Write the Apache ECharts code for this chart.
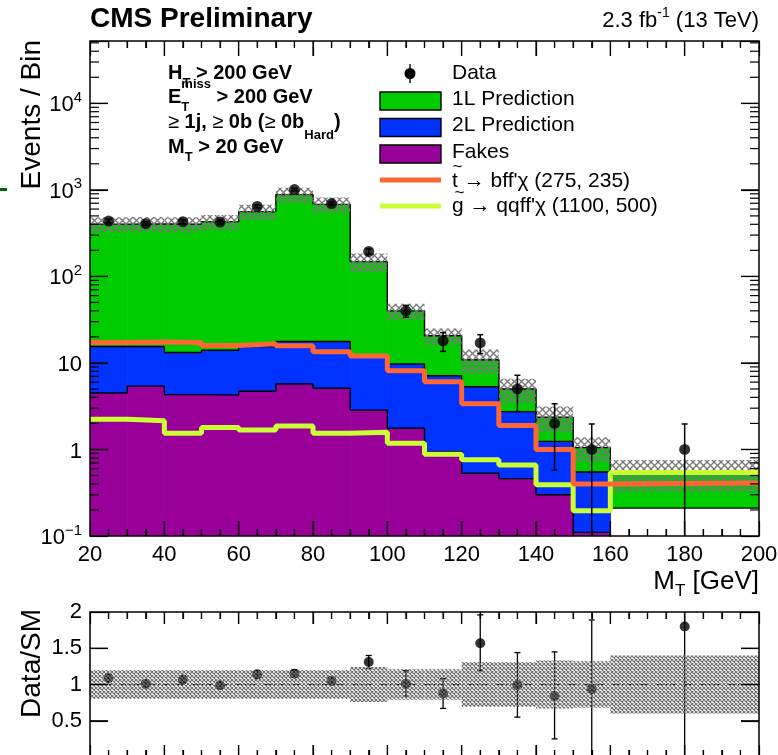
<!DOCTYPE html>
<html><head><meta charset="utf-8">
<script src="https://cdn.jsdelivr.net/npm/echarts@6/dist/echarts.min.js"></script>
<style>html,body{margin:0;padding:0;background:#fff}#c{width:778px;height:755px}</style>
</head><body><div id="c"></div>
<script>
// ---------------- data ----------------
const binEdges  = [20,30,40,50,60,70,80,90,100,110,120,130,140,150,160,200];
const fakes     = [4.5,5.4,4.3,4.25,4.7,5.7,5.1,2.85,1.76,0.94,0.53,0.46,0.30,0.11,0];
const twoL      = [11.0,10.1,8.9,9.75,10.8,12.0,12.6,9.15,7.94,6.16,4.77,2.28,0.94,0.44,0.21];
const oneL      = [386,388,388,414,544,862,662,136,30.3,13.5,5.6,2.26,1.12,0.50,0.33];
const stopSig   = [17.2,17.5,17.2,15.9,16.7,15.8,13.5,12.0,8.1,6.05,3.37,1.89,1.0,0.40,0.41];
const gluinoSig = [2.24,2.14,1.54,1.79,1.68,1.87,1.54,1.58,1.18,0.88,0.76,0.66,0.39,0.196,0.54];
const relUnc    = [0.2,0.2,0.2,0.2,0.2,0.2,0.2,0.24,0.21,0.21,0.31,0.31,0.33,0.32,0.40];
const dataX     = [25,35,45,55,65,75,85,95,105,115,125,135,145,155,180];
const dataY     = [436,407,429,425,643,1007,695,194,40,18,17,5,2,1,1];
const dataErrLo = [21,20,21,21,25,32,26,14,6.3,4.4,4.2,2.26,1.42,1,1];
const dataErrHi = [21,20,21,21,25,32,26,14,6.3,4.4,4.2,2.2,1.37,0.97,0.97];
const ratioY     = [1.09,1.01,1.07,0.99,1.14,1.15,1.05,1.31,1.01,0.875,1.57,0.99,0.84,0.94,1.80];
const ratioErrLo = [0.05,0.05,0.05,0.05,0.05,0.05,0.05,0.09,0.17,0.205,0.38,0.44,0.59,0.94,1.80];
const ratioErrHi = [0.05,0.05,0.05,0.05,0.05,0.05,0.05,0.09,0.18,0.205,0.39,0.45,0.61,0.95,1.90];
const ratioTickValues = [0.5, 1, 1.5, 2];
const legendNames = ['Data','1L Prediction','2L Prediction','Fakes','t \u2192 bff\'\u03c7 (275, 235)','g \u2192 qqff\'\u03c7 (1100, 500)'];
const yMin = 0.1, yMax = 52500;

// ---------------- style ----------------
const FONT = "'Liberation Sans', Arial, Helvetica, sans-serif";
const C_GREEN = '#00cc00', C_BLUE = '#0033ff', C_PURPLE = '#990099', C_ORANGE = '#ff6633', C_LIME = '#ccff33';

function makeHatch(size, color, lw) {
  const c = document.createElement('canvas'); c.width = size; c.height = size;
  const g = c.getContext('2d'); g.strokeStyle = color; g.lineWidth = lw;
  g.beginPath(); g.moveTo(0,0); g.lineTo(size,size); g.moveTo(size,0); g.lineTo(0,size); g.stroke();
  return c;
}
const hatchMain  = {image: makeHatch(7, '#777777', 1.3), repeat: 'repeat'};
const hatchRatio = {image: makeHatch(4, '#6a6a6a', 1.1), repeat: 'repeat'};

// ---------------- derived stacking ----------------
const nb = fakes.length;
const xLo = binEdges[0], xHi = binEdges[nb];
const cum1 = fakes.slice();
const cum2 = cum1.map((v,i)=>v+twoL[i]);
const cum3 = cum2.map((v,i)=>v+oneL[i]);

function layerData(lower, upper) {
  return upper.map((u,i)=>[binEdges[i], binEdges[i+1], lower ? lower[i] : yMin, u, i]);
}
function stepData(vals) {
  const d = vals.map((v,i)=>[binEdges[i], Math.max(v, 1e-4)]);
  d.push([xHi, Math.max(vals[nb-1], 1e-4)]);
  return d;
}
function rectRender(color, extend) {
  return function (params, api) {
    const x0 = api.value(0), x1 = api.value(1), lo = api.value(2), hi = api.value(3), i = api.value(4);
    if (!(hi > lo) || hi <= 0) return null;
    const a = api.coord([x0, hi]), b = api.coord([x1, lo]);
    const ext = (extend && i < nb-1) ? 0.6 : 0;
    return {type:'rect', shape:{x:a[0], y:a[1], width:b[0]-a[0]+ext, height:b[1]-a[1]}, style:{fill:color}};
  };
}
function errRender(cw, lw) {
  return function (params, api) {
    const x = api.value(0), lo = api.value(1), hi = api.value(2);
    const a = api.coord([x, hi]), b = api.coord([x, lo]);
    const st = {stroke:'#000', lineWidth:lw};
    return {type:'group', children:[
      {type:'line', shape:{x1:a[0],y1:a[1],x2:b[0],y2:b[1]}, style:st},
      {type:'line', shape:{x1:a[0]-cw,y1:a[1],x2:a[0]+cw,y2:a[1]}, style:st},
      {type:'line', shape:{x1:b[0]-cw,y1:b[1],x2:b[0]+cw,y2:b[1]}, style:st}
    ]};
  };
}

const bandMain = cum3.map((t,i)=>[binEdges[i], binEdges[i+1], t*(1-relUnc[i]), t*(1+relUnc[i]), i]);
const bandRatio = relUnc.map((u,i)=>[binEdges[i], binEdges[i+1], 1-u, 1+u, i]);
const dataErr = dataX.map((x,i)=>[x, Math.max(dataY[i]-dataErrLo[i], 1e-4), dataY[i]+dataErrHi[i]]);
const ratioErr = dataX.map((x,i)=>[x, ratioY[i]-ratioErrLo[i], ratioY[i]+ratioErrHi[i]]);

// ---------------- text helpers ----------------
const mctx = document.createElement('canvas').getContext('2d');
function tw(t, size, w) { mctx.font = (w||'normal') + ' ' + size + 'px ' + FONT; return mctx.measureText(t).width; }
const G = [];
function addPieces(x, y, pieces, align) {
  const widths = pieces.map(p => p.adv !== undefined ? p.adv : tw(p.t, p.size, p.w));
  const total = widths.reduce((a,b)=>a+b, 0);
  let cx = align === 'right' ? x - total : x;
  pieces.forEach((p,i) => {
    G.push({type:'text', x:cx, y:y+(p.dy||0), z:100, silent:true,
      style:{text:p.t, fontSize:p.size, fontWeight:p.w||'normal', fontFamily:FONT, fill:'#000', align:'left', verticalAlign:'middle'}});
    cx += widths[i];
  });
}
// header
addPieces(90, 19, [{t:'CMS Preliminary', size:28, w:'bold'}]);
addPieces(759, 21, [{t:'2.3 fb', size:22},{t:'-1', size:14, dy:-8},{t:' (13 TeV)', size:22}], 'right');
// selection text
const B = 'bold';
addPieces(168, 73, [{t:'H',size:20,w:B},{t:'T',size:13,w:B,dy:10},{t:' > 200 GeV',size:20,w:B}]);
addPieces(168, 97, [{t:'E',size:20,w:B},{t:'T',size:13,w:B,dy:10,adv:0},{t:'miss',size:13,w:B,dy:-13},{t:' > 200 GeV',size:20,w:B}]);
addPieces(168, 122, [{t:'\u2265 ',size:20},{t:'1j, ',size:20,w:B},{t:'\u2265 ',size:20},{t:'0b (',size:20,w:B},{t:'\u2265 ',size:20},{t:'0b',size:20,w:B},{t:'Hard',size:13,w:B,dy:13},{t:')',size:20,w:B}]);
addPieces(168, 147, [{t:'M',size:20,w:B},{t:'T',size:13,w:B,dy:10},{t:' > 20 GeV',size:20,w:B}]);
// axis titles
addPieces(759, 582, [{t:'M',size:26},{t:'T',size:17,dy:9},{t:' [GeV]',size:26}], 'right');
G.push({type:'text', x:32, y:40, rotation:Math.PI/2, z:100, silent:true,
  style:{text:'Events / Bin', fontSize:28, fontFamily:FONT, fill:'#000', align:'right', verticalAlign:'middle'}});
G.push({type:'text', x:32, y:609, rotation:Math.PI/2, z:100, silent:true,
  style:{text:'Data/SM', fontSize:28, fontFamily:FONT, fill:'#000', align:'right', verticalAlign:'middle'}});
// stray mark at left edge
G.push({type:'rect', shape:{x:0, y:188, width:7, height:3}, style:{fill:'#006600'}, z:100, silent:true});
// legend
const LX = 380, LW = 61, TX = 452;
G.push({type:'line', shape:{x1:410, y1:64, x2:410, y2:83}, style:{stroke:'#000', lineWidth:1.4}, z:100});
G.push({type:'circle', shape:{cx:410, cy:73.5, r:5.5}, style:{fill:'#000'}, z:100});
[[C_GREEN,92],[C_BLUE,118.5],[C_PURPLE,145]].forEach(([c,y]) =>
  G.push({type:'rect', shape:{x:LX, y:y, width:LW, height:18}, style:{fill:c, stroke:'#000', lineWidth:1.4}, z:100}));
G.push({type:'rect', shape:{x:LX, y:177.5, width:LW, height:5}, style:{fill:C_ORANGE}, z:100});
G.push({type:'rect', shape:{x:LX, y:203.5, width:LW, height:5}, style:{fill:C_LIME}, z:100});
const legY = [73, 99, 125.5, 152, 181, 206];
legendNames.forEach((n,i) => addPieces(TX, legY[i], [{t:n, size:21}]));
addPieces(TX+0.5, 167, [{t:'~', size:17}]);
addPieces(TX+2.5, 193, [{t:'~', size:17}]);

// ---------------- chart ----------------
const chart = echarts.init(document.getElementById('c'), null, {renderer:'canvas'});
const lblStyle = {fontSize:22, fontFamily:FONT, color:'#000'};
const tickLine = {color:'#000', width:1.2};
function xAx(grid, pos, showLabel, maj) {
  return {gridIndex:grid, type:'value', min:xLo, max:xHi, interval:20, position:pos, z:30,
    axisLine:{show:false, onZero:false}, splitLine:{show:false},
    axisTick:{show:true, inside:true, length:maj, lineStyle:tickLine},
    minorTick:{show:true, splitNumber:4, length:7, lineStyle:tickLine},
    axisLabel:Object.assign({show:showLabel, margin:8}, lblStyle)};
}
function logFmt(v) {
  const l = Math.log10(v), e = Math.round(l);
  if (Math.abs(l - e) > 1e-6) return '';
  if (e === 0) return '{b|1}';
  if (e === 1) return '{b|10}';
  return '{b|10}{s|' + (e < 0 ? '\u22121' : e) + '}';
}
function yLog(pos, showLabel) {
  return {gridIndex:0, type:'log', logBase:10, min:yMin, max:yMax, position:pos, z:30,
    axisLine:{show:false, onZero:false}, splitLine:{show:false}, minorTick:{show:false},
    axisTick:{show:true, inside:true, length:18, lineStyle:tickLine},
    axisLabel:{show:showLabel, margin:8, formatter:logFmt, color:'#000',
      rich:{b:{fontSize:22, fontFamily:FONT, color:'#000', lineHeight:26, verticalAlign:'bottom'},
            s:{fontSize:15, fontFamily:FONT, color:'#000', lineHeight:12, verticalAlign:'top'}}}};
}
function yRatio(pos, showLabel) {
  return {gridIndex:1, type:'value', min:0, max:2, interval:0.5, position:pos, z:30,
    axisLine:{show:false, onZero:false}, splitLine:{show:false},
    axisTick:{show:true, inside:true, length:18, lineStyle:tickLine},
    axisLabel:Object.assign({show:showLabel, margin:8, formatter:v => v === 0 ? '' : String(v)}, lblStyle)};
}
const option = {
  animation:false,
  backgroundColor:'#fff',
  textStyle:{fontFamily:FONT},
  grid:[
    {left:90, top:41, width:669, height:495, show:true, borderColor:'#000', borderWidth:1.5, backgroundColor:'transparent', z:10, outerBoundsMode:'none', containLabel:false},
    {left:90, top:612, width:669, height:145, show:true, borderColor:'#000', borderWidth:1.5, backgroundColor:'transparent', z:10, outerBoundsMode:'none', containLabel:false}
  ],
  xAxis:[ xAx(0,'bottom',true,15), xAx(0,'top',false,15), xAx(1,'bottom',false,12), xAx(1,'top',false,12) ],
  yAxis:[ yLog('left',true), yLog('right',false), yRatio('left',true), yRatio('right',false) ],
  series:[
    {name:'Fakes', type:'custom', xAxisIndex:0, yAxisIndex:0, z:2, clip:true, renderItem:rectRender(C_PURPLE,true),
      encode:{x:[0,1], y:[2,3]}, data:layerData(null, cum1)},
    {name:'2L Prediction', type:'custom', xAxisIndex:0, yAxisIndex:0, z:2, clip:true, renderItem:rectRender(C_BLUE,true),
      encode:{x:[0,1], y:[2,3]}, data:layerData(cum1, cum2)},
    {name:'1L Prediction', type:'custom', xAxisIndex:0, yAxisIndex:0, z:2, clip:true, renderItem:rectRender(C_GREEN,true),
      encode:{x:[0,1], y:[2,3]}, data:layerData(cum2, cum3)},
    ...[cum1, cum2, cum3].map(c => ({type:'line', xAxisIndex:0, yAxisIndex:0, z:3, step:'end', symbol:'none', clip:true,
      lineStyle:{color:'#000', width:1.4}, data:stepData(c), silent:true})),
    {name:'Uncertainty', type:'custom', xAxisIndex:0, yAxisIndex:0, z:4, clip:true, renderItem:rectRender(hatchMain,false),
      encode:{x:[0,1], y:[2,3]}, data:bandMain},
    {name:legendNames[5], type:'line', xAxisIndex:0, yAxisIndex:0, z:5, step:'end', symbol:'none', clip:true,
      lineStyle:{color:C_LIME, width:5}, data:stepData(gluinoSig)},
    {name:legendNames[4], type:'line', xAxisIndex:0, yAxisIndex:0, z:5, step:'end', symbol:'none', clip:true,
      lineStyle:{color:C_ORANGE, width:5}, data:stepData(stopSig)},
    {type:'custom', xAxisIndex:0, yAxisIndex:0, z:6, clip:true, renderItem:errRender(3,1.5),
      encode:{x:0, y:[1,2]}, data:dataErr},
    {name:'Data', type:'scatter', xAxisIndex:0, yAxisIndex:0, z:7, symbol:'circle', symbolSize:11,
      itemStyle:{color:'#000'}, data:dataX.map((x,i)=>[x, dataY[i]])},
    // ratio panel
    {type:'line', xAxisIndex:2, yAxisIndex:2, z:3, symbol:'none', silent:true,
      lineStyle:{color:'#000', width:1.2, type:[7,3,1.5,3]}, data:[[xLo,1],[xHi,1]]},
    {type:'custom', xAxisIndex:2, yAxisIndex:2, z:4, clip:true, renderItem:errRender(3,1.3),
      encode:{x:0, y:[1,2]}, data:ratioErr},
    {type:'scatter', xAxisIndex:2, yAxisIndex:2, z:5, symbol:'circle', symbolSize:10, clip:true,
      itemStyle:{color:'#000'}, data:dataX.map((x,i)=>[x, ratioY[i]])},
    {type:'custom', xAxisIndex:2, yAxisIndex:2, z:6, clip:true, renderItem:rectRender(hatchRatio,false),
      encode:{x:[0,1], y:[2,3]}, data:bandRatio}
  ],
  graphic:{elements:G}
};
chart.setOption(option);

// ---------------- log minor ticks (and backup ticks), placed through the axes' scales ----------------
const T = [];
try {
  const px = (xi, yi, x, y) => chart.convertToPixel({xAxisIndex:xi, yAxisIndex:yi}, [x, y]);
  const seg = (x1, y1, x2, y2) =>
    T.push({type:'line', z:120, silent:true, shape:{x1:x1, y1:y1, x2:x2, y2:y2}, style:{stroke:'#000', lineWidth:1.2}});
  const xTicks = (xi, yi, y0, y1, majLen, minLen) => {
    for (let x = xLo + 5; x < xHi; x += 5) {
      const len = (x % 20 === 0) ? majLen : minLen;
      const a = px(xi, yi, x, y0), b = px(xi, yi, x, y1);
      seg(a[0], a[1], a[0], a[1] - len);
      seg(b[0], b[1], b[0], b[1] + len);
    }
  };
  const yTicks = (xi, yi, values) => {
    values.forEach(([v, len]) => {
      const a = px(xi, yi, xLo, v), b = px(xi, yi, xHi, v);
      seg(a[0], a[1], a[0] + len, a[1]);
      seg(b[0], b[1], b[0] - len, b[1]);
    });
  };
  xTicks(0, 0, yMin, yMax, 15, 7);
  xTicks(2, 2, 0, 2, 12, 7);
  const mainYTickVals = [];
  for (let k = -1; k <= 4; k++) for (let m = 1; m <= 9; m++) {
    const v = m * Math.pow(10, k);
    if (v > yMin && v < yMax) mainYTickVals.push([v, m === 1 ? 18 : 9]);
  }
  yTicks(0, 0, mainYTickVals);
  yTicks(2, 2, ratioTickValues.filter(v => v < 2).map(v => [v, 18]));
} catch (e) { /* ticks also come from the axes themselves */ }
chart.setOption({graphic:{elements:G.concat(T)}});
</script>
</body></html>
